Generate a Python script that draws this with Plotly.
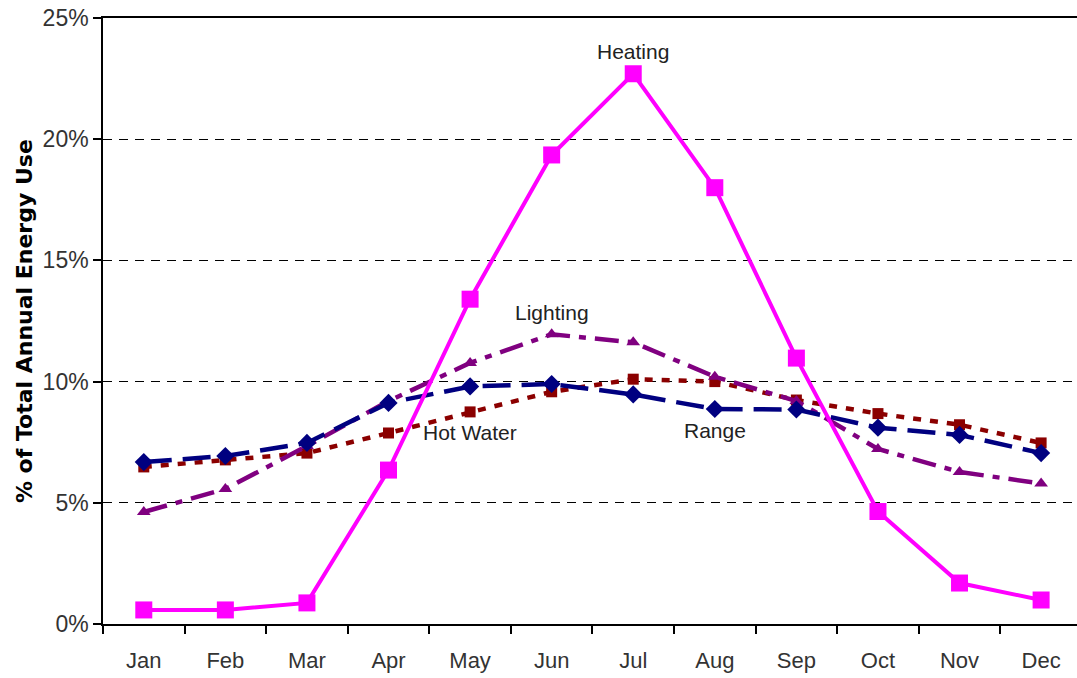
import plotly.graph_objects as go

months = ["Jan", "Feb", "Mar", "Apr", "May", "Jun", "Jul", "Aug", "Sep", "Oct", "Nov", "Dec"]
heating = [0.58, 0.58, 0.87, 6.35, 13.4, 19.35, 22.7, 18.0, 10.97, 4.64, 1.69, 0.99]
range_use = [6.68, 6.93, 7.47, 9.12, 9.8, 9.9, 9.47, 8.87, 8.85, 8.1, 7.8, 7.05]
hot_water = [6.48, 6.77, 7.05, 7.88, 8.75, 9.58, 10.1, 10.0, 9.24, 8.68, 8.22, 7.47]
lighting = [4.62, 5.57, 7.34, 9.2, 10.77, 11.95, 11.62, 10.2, 9.2, 7.22, 6.27, 5.8]
y_ticks = [0, 5, 10, 15, 20, 25]
y_tick_text = ["0%", "5%", "10%", "15%", "20%", "25%"]

fig = go.Figure()
fig.add_trace(go.Scatter(x=months, y=hot_water, name="Hot Water", mode="lines+markers",
                         line=dict(color="#8B0000", width=4.5, dash="8px,9px"),
                         marker=dict(symbol="square", size=11, color="#8B0000")))
fig.add_trace(go.Scatter(x=months, y=lighting, name="Lighting", mode="lines+markers",
                         line=dict(color="#800080", width=4.5, dash="24px,9px,7px,9px"),
                         marker=dict(symbol="triangle-up", size=12, color="#800080")))
fig.add_trace(go.Scatter(x=months, y=range_use, name="Range", mode="lines+markers",
                         line=dict(color="#000080", width=4.5, dash="28px,11px"),
                         marker=dict(symbol="diamond", size=14, color="#000080")))
fig.add_trace(go.Scatter(x=months, y=heating, name="Heating", mode="lines+markers",
                         line=dict(color="#FF00FF", width=4),
                         marker=dict(symbol="square", size=17, color="#FF00FF")))

label_font = dict(family="Liberation Sans, Arial", size=21, color="#222")
for txt, xm, yv in [("Heating", "Jul", 23.6), ("Lighting", "Jun", 12.85),
                    ("Hot Water", "May", 7.9), ("Range", "Aug", 8.0)]:
    fig.add_annotation(x=xm, y=yv, text=txt, showarrow=False, font=label_font,
                       xanchor="center", yanchor="middle")

fig.add_annotation(xref="paper", yref="paper", x=-0.081, y=0.5, text="<b>% of Total Annual Energy Use</b>",
                   textangle=-90, showarrow=False, xanchor="center", yanchor="middle",
                   font=dict(family="DejaVu Sans, Verdana, sans-serif", size=22, color="black"))

fig.update_layout(
    width=1077, height=678,
    margin=dict(l=103, r=0, t=18, b=54, autoexpand=False),
    plot_bgcolor="white", paper_bgcolor="white",
    showlegend=False,
    font=dict(family="Liberation Sans, Arial", size=22, color="#333"),
)
fig.update_xaxes(
    range=[-0.5, 11.44], showgrid=False, showline=True, linecolor="black", linewidth=1.5,
    mirror=True, ticks="outside", tickson="boundaries", ticklen=8, tickcolor="black",
    tickwidth=1.5, zeroline=False, automargin=False, tickfont=dict(size=22),
    ticklabelstandoff=16,
)
fig.update_yaxes(
    range=[0, 25], tickvals=y_ticks, ticktext=y_tick_text, showgrid=True,
    gridcolor="black", griddash="9px,7px", gridwidth=1.3,
    showline=True, linecolor="black", linewidth=1.5, ticks="outside", ticklen=8,
    tickcolor="black", tickwidth=1.5, zeroline=False, automargin=False, tickfont=dict(size=23),
)

fig.write_html("out.html", config={"displayModeBar": False},
               post_script="document.body.style.margin='0';document.body.style.overflow='hidden';")
